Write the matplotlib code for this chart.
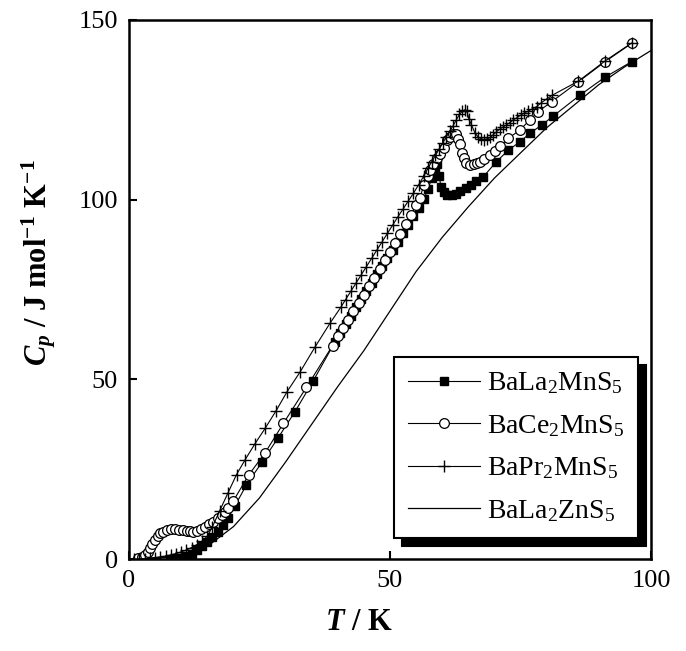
import matplotlib
matplotlib.use("Agg")
import matplotlib.pyplot as plt

plt.rcParams['font.family'] = 'Liberation Serif'
plt.rcParams['mathtext.fontset'] = 'custom'
plt.rcParams['mathtext.rm'] = 'Liberation Serif'
plt.rcParams['mathtext.it'] = 'Liberation Serif:italic:bold'
plt.rcParams['mathtext.bf'] = 'Liberation Serif:bold'

# BaLa2MnS5 (filled squares)
t_la = [8, 9, 10, 11, 12, 13, 14, 15, 16, 17, 18, 19, 20.3, 22.5, 25.5, 28.6, 31.8, 35.3,
        39.5, 40.5, 41.5, 42.5, 43.5, 44.5, 45.5, 46.5, 47.5, 48.5, 49.5, 50.5, 51.5, 52.5,
        53.5, 54.5, 55.5, 56.5, 57.3, 58.0, 58.6, 59.0, 59.4, 59.8, 60.3, 61.0, 61.8, 62.6,
        63.5, 64.5, 65.5, 66.5, 67.9, 70.4, 72.7, 74.9, 76.8, 79.1, 81.3, 86.4, 91.2, 96.3]
cp_la = [0.1, 0.2, 0.4, 0.9, 1.5, 2.4, 3.5, 4.7, 6.1, 7.6, 9.4, 11.5, 14.8, 20.6, 27.0, 33.8, 41.0, 49.6,
         60.5, 63.0, 65.3, 67.6, 70.0, 72.3, 74.6, 76.9, 79.2, 81.5, 83.7, 86.0, 88.3, 90.6,
         93.0, 95.4, 97.8, 100.3, 103.0, 106.0, 109.0, 110.0, 106.5, 103.5, 102.0, 101.4, 101.3, 101.6,
         102.3, 103.2, 104.2, 105.2, 106.4, 110.6, 113.8, 116.1, 118.5, 120.8, 123.3, 129.1, 134.1, 138.4]

# BaCe2MnS5 (open circles)
t_ce = [1.8, 2.5, 3.1, 3.6, 4.0, 4.5, 5.0, 5.5, 5.9, 6.5, 7.2, 8.0, 8.8, 9.6, 10.4, 11.1, 11.7, 12.3,
        13.0, 13.8, 14.6, 15.4, 16.1, 17.0, 17.8, 18.4, 19.0, 20.0, 22.9, 26.1, 29.6, 34.0, 39.0,
        40, 41, 42, 43, 44, 45, 46, 47, 48, 49, 50, 51, 52, 53, 54, 55, 55.7, 56.5, 57.2, 57.7,
        58.3, 59.0, 59.6, 60.3, 61.0, 61.5, 62.1, 62.7, 63.1, 63.4, 63.7, 64.1, 64.6, 65.3, 66.0,
        66.6, 67.2, 68.0, 69.2, 70.2, 71.1, 72.7, 74.9, 76.8, 78.4, 81.0, 86.1, 91.2, 96.3]
cp_ce = [0.2, 0.6, 1.1, 2.0, 3.0, 4.2, 5.3, 6.3, 7.1, 7.6, 8.1, 8.3, 8.3, 8.2, 8.1, 7.9, 7.7, 7.6,
         7.7, 8.3, 9.0, 9.7, 10.4, 11.3, 12.2, 13.2, 14.1, 16.2, 23.3, 29.6, 37.8, 47.8, 59.4,
         62.0, 64.3, 66.6, 68.9, 71.2, 73.5, 75.9, 78.3, 80.7, 83.1, 85.5, 88.0, 90.5, 93.1, 95.8, 98.5,
         100.5, 104.0, 106.5, 108.3, 110.0, 111.5, 112.8, 114.5, 116.5, 117.3, 118.2, 118.3, 117.0,
         115.5, 113.0, 111.5, 110.3, 109.7, 109.8, 110.2, 110.6, 111.3, 112.4, 113.6, 114.8, 117.1,
         119.4, 122.2, 124.5, 127.3, 132.8, 138.4, 143.5]

# BaPr2MnS5 (plus)
t_pr = [1, 2, 3, 4, 5, 6, 7, 8, 9, 10, 11, 12, 13, 14, 15, 16, 17.4, 19.0, 20.6, 22.2, 24.1,
        26.1, 28.2, 30.3, 32.8, 35.6, 38.5, 40.6, 41.5, 42.5, 43.5, 44.5, 45.5, 46.5, 47.5,
        48.5, 49.5, 50.5, 51.5, 52.5, 53.5, 54.5, 55.5, 56.5, 57.3, 58.0, 58.7, 59.4, 60.1,
        60.8, 61.5, 62.1, 62.7, 63.3, 63.8, 64.3, 64.7, 65.1, 65.6, 66.3, 66.9, 67.5, 68.0,
        68.6, 69.2, 69.8, 70.4, 71.0, 71.6, 72.2, 72.9, 73.6, 74.3, 75.0, 75.7, 76.4, 77.2,
        78.1, 79.0, 80.0, 81.0, 86.1, 91.2, 96.3]
cp_pr = [0.0, 0.05, 0.1, 0.2, 0.4, 0.6, 0.8, 1.1, 1.5, 2.0, 2.5, 3.2, 4.0, 5.0, 6.3, 9.0, 13.5,
         18.5, 23.5, 27.5, 32.0, 36.4, 41.3, 46.6, 52.1, 58.9, 65.6, 70.1, 72.2, 74.5, 76.8,
         79.1, 81.4, 83.7, 86.0, 88.3, 90.6, 92.9, 95.2, 97.4, 99.6, 101.8, 104.2, 106.6, 108.8,
         110.6, 112.3, 114.0, 115.8, 117.5, 119.2, 120.6, 122.2, 123.7, 124.6, 125.0, 124.8,
         122.5, 120.8, 118.5, 117.4, 116.9, 116.7, 116.9, 117.3, 118.1, 118.9, 119.6, 120.2,
         120.7, 121.4, 122.2, 122.8, 123.5, 124.1, 124.6, 125.2, 125.9, 127.0, 128.0, 129.0,
         133.0, 138.6, 143.6]

# BaLa2ZnS5 (lattice reference, line only)
t_zn = [0, 5, 10, 15, 20, 25, 30, 35, 40, 45, 50, 55, 60, 65, 70, 75, 80, 85, 90, 95, 100]
cp_zn = [0, 0.3, 1.0, 3.5, 9, 17, 27, 37.5, 48, 58, 69, 80, 89.5, 98, 106, 113, 120, 126, 132, 137, 141.5]

fig = plt.figure(figsize=(6.86, 6.51), dpi=100)
ax = fig.add_axes([0.188, 0.1413, 0.761, 0.828])

ax.plot(t_zn, cp_zn, '-', color='black', lw=0.9, label=r'BaLa$_2$ZnS$_5$', zorder=2)
ax.plot(t_la, cp_la, '-s', color='black', lw=0.8, ms=6, mfc='black', mec='black',
        label=r'BaLa$_2$MnS$_5$', zorder=3)
ax.plot(t_ce, cp_ce, '-o', color='black', lw=0.8, ms=7, mfc='white', mec='black', mew=0.9,
        label=r'BaCe$_2$MnS$_5$', zorder=4)
ax.plot(t_pr, cp_pr, '-+', color='black', lw=0.8, ms=9, mew=1.0,
        label=r'BaPr$_2$MnS$_5$', zorder=5)

ax.set_xlim(0, 100)
ax.set_ylim(0, 150)
ax.set_xticks([0, 50, 100])
ax.set_yticks([0, 50, 100, 150])
ax.tick_params(direction='in', length=6, width=1.5, labelsize=19, pad=8)
for s in ax.spines.values():
    s.set_linewidth(1.8)

ax.set_xlabel(r'$T$ / K', fontsize=22, fontweight='bold')
ax.set_ylabel(r'$C_p$ / J mol$^{\mathbf{-1}}$ K$^{\mathbf{-1}}$', fontsize=22, fontweight='bold')
ax.xaxis.set_label_coords(0.44, -0.09)
ax.yaxis.set_label_coords(-0.135, 0.55)

handles, labels = ax.get_legend_handles_labels()
order = [1, 2, 3, 0]
leg = ax.legend([handles[i] for i in order], [labels[i] for i in order],
                loc='lower right', bbox_to_anchor=(0.975, 0.039), fontsize=20,
                frameon=True, fancybox=False, edgecolor='black', handlelength=2.6,
                handletextpad=0.25, borderpad=0.5, labelspacing=0.6, borderaxespad=0,
                shadow={'ox': 5.8, 'oy': -5.8, 'facecolor': 'black', 'edgecolor': 'black', 'alpha': 1})
leg.get_frame().set_linewidth(1.5)

fig.savefig('out.png', dpi=100)
